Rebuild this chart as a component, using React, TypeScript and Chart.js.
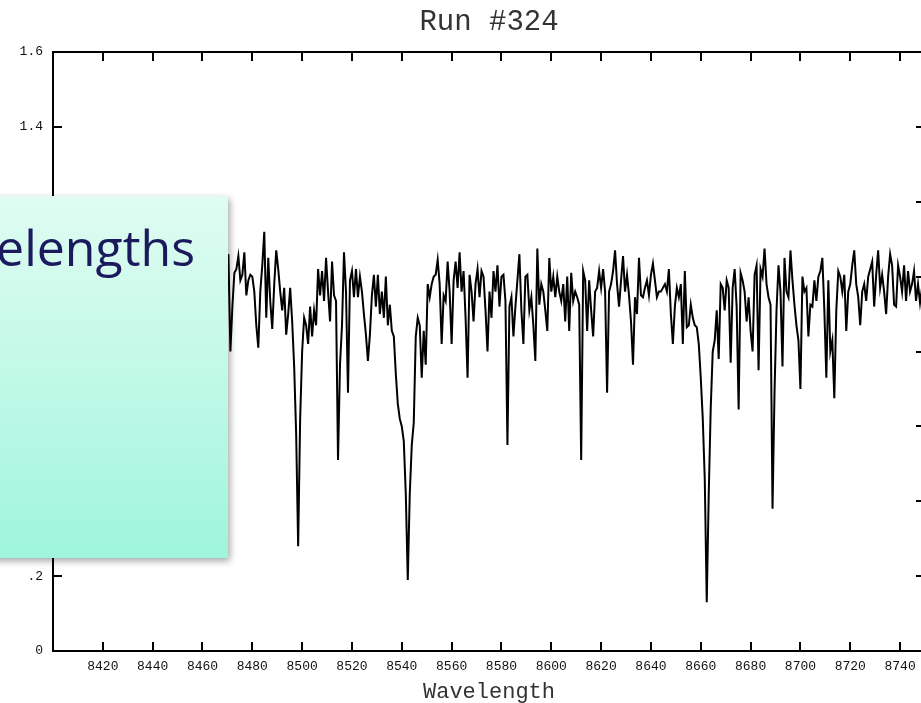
import React, { useEffect, useRef } from 'react';
import { Chart, registerables } from 'chart.js';

Chart.register(...registerables);

const TITLE = 'Run #324';
const X_LABEL = 'Wavelength';
const OVERLAY_TEXT = 'Wavelengths';

const X_MIN = 8400;
const X_MAX = 8750;
const Y_MIN = 0;
const Y_MAX = 1.6;

// regular wavelength sampling of the spectrum (Angstrom)
const WAVE_START = 8400;
const WAVE_STEP = 0.8;

const xTickValues = [8420, 8440, 8460, 8480, 8500, 8520, 8540, 8560, 8580, 8600, 8620, 8640, 8660, 8680, 8700, 8720, 8740];
const xTickLabels = ['8420', '8440', '8460', '8480', '8500', '8520', '8540', '8560', '8580', '8600', '8620', '8640', '8660', '8680', '8700', '8720', '8740'];
const yTickValues = [0, 0.2, 0.4, 0.6, 0.8, 1.0, 1.2, 1.4, 1.6];
const yTickLabels = ['0', '.2', '.4', '.6', '.8', '1', '1.2', '1.4', '1.6'];

// 8400.0 - 8464.0 (behind the overlay panel)
const flux8400 = [
  0.98, 1.02, 0.95, 1.01, 0.97, 0.93, 1.03, 0.99, 0.96, 1.00,
  0.94, 0.98, 1.04, 0.97, 0.92, 0.99, 1.01, 0.96, 0.90, 0.97,
  1.02, 0.98, 0.95, 1.03, 0.99, 0.94, 0.97, 1.01, 0.96, 0.93,
  0.99, 1.04, 0.97, 0.95, 1.00, 0.96, 0.91, 0.98, 1.02, 0.97,
  0.94, 0.99, 1.03, 0.96, 0.92, 0.98, 1.01, 0.95, 0.99, 1.02,
  0.96, 0.93, 0.98, 1.00, 0.95, 0.97, 1.03, 0.98, 0.94, 0.99,
  1.01, 0.96, 0.92, 0.98, 1.02, 0.97, 0.95, 1.00, 0.96, 0.93,
  0.99, 1.02, 0.97, 0.94, 0.99, 1.01, 0.96, 0.92, 0.98, 1.00,
  0.96,
];

// 8464.8 - 8536.8 (Ca II 8498)
const flux8465 = [
  0.95, 0.97, 0.93, 0.90, 0.61, 0.85, 0.98, 1.06, 0.80, 0.92,
  1.01, 1.02, 1.055, 0.99, 1.005, 1.065, 0.95, 0.99, 1.005, 1.00,
  0.96, 0.87, 0.81, 0.96, 1.03, 1.12, 0.89, 1.05, 0.935, 0.86,
  0.98, 1.07, 1.02, 0.96, 0.91, 0.97, 0.845, 0.90, 0.97, 0.88,
  0.76, 0.58, 0.28, 0.62, 0.80, 0.89, 0.87, 0.82, 0.92, 0.84,
  0.91, 0.87, 1.02, 0.95, 1.015, 0.935, 1.05, 0.96, 0.88, 1.04,
  0.95, 0.935, 0.51, 0.765, 0.87, 1.065, 0.96, 0.69, 0.99, 1.015,
  0.945, 1.02, 0.945, 1.00, 0.96, 0.90, 0.845, 0.775, 0.845, 0.95,
  1.005, 0.92, 1.005, 0.90, 0.96, 0.89, 1.00, 0.87, 0.925, 0.855,
  0.84,
];

// 8537.6 - 8607.2 (Ca II 8542)
const flux8538 = [
  0.74, 0.66, 0.62, 0.60, 0.56, 0.42, 0.19, 0.42, 0.55, 0.61,
  0.84, 0.89, 0.87, 0.73, 0.855, 0.765, 0.98, 0.945, 0.98, 1.00,
  1.005, 1.045, 0.98, 0.82, 0.95, 0.935, 1.04, 0.96, 0.82, 0.99,
  1.04, 0.97, 1.065, 0.96, 1.015, 0.89, 0.73, 1.005, 0.96, 0.88,
  0.98, 1.02, 0.945, 1.015, 1.00, 0.91, 0.80, 0.96, 0.89, 1.015,
  0.96, 1.03, 0.92, 1.00, 1.005, 0.935, 0.55, 0.92, 0.945, 0.84,
  0.92, 0.99, 1.06, 0.91, 0.82, 1.00, 1.005, 0.91, 0.945, 0.87,
  0.775, 1.075, 0.925, 0.98, 0.96, 0.91, 0.855, 1.05, 0.96, 1.00,
  0.945, 1.00, 0.96, 0.935, 0.98, 0.88, 1.00, 0.855,
];

// 8608.0 - 8659.2
const flux8608 = [
  1.01, 0.935, 0.96, 0.945, 0.925, 0.51, 1.015, 0.99, 0.855, 0.99,
  0.91, 0.84, 0.96, 0.97, 1.015, 0.97, 1.02, 0.96, 0.69, 0.96,
  0.98, 1.015, 1.07, 0.98, 0.92, 0.99, 1.055, 0.96, 1.005, 0.95,
  0.88, 0.765, 0.945, 0.90, 1.05, 0.95, 0.945, 0.97, 0.99, 0.95,
  1.005, 1.035, 0.99, 0.945, 0.96, 0.96, 0.97, 0.98, 0.96, 1.02,
  0.90, 0.82, 0.92, 0.97, 0.945, 0.98, 0.82, 1.015, 0.865, 0.87,
  0.925, 0.89, 0.87, 0.865, 0.82,
];

// 8660.0 - 8749.6 (Ca II 8662)
const flux8660 = [
  0.73, 0.62, 0.46, 0.13, 0.42, 0.65, 0.80, 0.83, 0.91, 0.78,
  0.98, 0.97, 0.91, 0.99, 0.97, 0.77, 0.97, 1.02, 0.92, 0.645,
  1.01, 0.99, 0.96, 0.88, 0.945, 0.855, 0.80, 1.005, 1.03, 0.75,
  1.02, 1.00, 1.075, 0.98, 0.945, 0.925, 0.38, 0.69, 0.91, 1.03,
  0.96, 0.76, 1.05, 0.96, 0.945, 1.07, 0.99, 0.925, 0.87, 0.83,
  0.70, 1.00, 0.96, 0.97, 0.84, 0.925, 0.92, 0.99, 0.935, 1.00,
  1.015, 1.05, 0.91, 0.73, 0.99, 0.80, 0.83, 0.675, 0.91, 1.015,
  1.00, 0.96, 1.005, 0.855, 0.96, 0.98, 1.03, 1.07, 0.98, 0.945,
  0.87, 0.96, 0.98, 0.935, 1.00, 1.02, 1.04, 0.92, 1.005, 1.07,
  0.97, 1.005, 0.96, 0.90, 1.00, 1.06, 1.03, 0.925, 0.92, 1.03,
  1.00, 0.96, 1.03, 0.935, 1.015, 0.96, 0.98, 1.015, 0.935, 0.98,
  0.93, 0.97, 1.00,
];

const MONO = "'Liberation Mono', 'DejaVu Sans Mono', monospace";

const inwardTicks = {
  id: 'inwardTicks',
  afterDatasetsDraw(chart: any) {
    const { ctx, chartArea } = chart;
    const { left, right, top, bottom } = chartArea;
    const xs = chart.scales.x;
    const ys = chart.scales.y;
    const len = 9;
    ctx.save();
    ctx.strokeStyle = '#000';
    ctx.lineWidth = 2;
    ctx.beginPath();
    for (const v of xTickValues) {
      const px = Math.round(xs.getPixelForValue(v));
      ctx.moveTo(px, bottom);
      ctx.lineTo(px, bottom - len);
      ctx.moveTo(px, top);
      ctx.lineTo(px, top + len);
    }
    for (const v of yTickValues) {
      const py = Math.round(ys.getPixelForValue(v));
      ctx.moveTo(left, py);
      ctx.lineTo(left + len, py);
      ctx.moveTo(right, py);
      ctx.lineTo(right - len, py);
    }
    ctx.stroke();
    ctx.restore();
  },
};

export default function App() {
  const canvasRef = useRef<HTMLCanvasElement | null>(null);

  useEffect(() => {
    const canvas = canvasRef.current;
    if (!canvas) return;
    const flux = [...flux8400, ...flux8465, ...flux8538, ...flux8608, ...flux8660];
    const points = flux.map((y, i) => ({ x: WAVE_START + i * WAVE_STEP, y }));

    const border = { display: true, color: '#000', width: 2 };
    const noGrid = { display: false, drawTicks: false, tickLength: 0 };
    const chart = new Chart(canvas, {
      type: 'line',
      data: {
        datasets: [
          {
            data: points,
            borderColor: '#000',
            borderWidth: 2,
            pointRadius: 0,
            tension: 0,
            fill: false,
          },
        ],
      },
      plugins: [inwardTicks],
      options: {
        animation: false,
        responsive: false,
        events: [],
        layout: { padding: 0 },
        plugins: { legend: { display: false }, tooltip: { enabled: false }, title: { display: false } },
        scales: {
          x: {
            type: 'linear',
            position: 'bottom',
            min: X_MIN,
            max: X_MAX,
            afterBuildTicks: (s: any) => {
              s.ticks = xTickValues.map((v) => ({ value: v }));
            },
            ticks: {
              autoSkip: false,
              maxRotation: 0,
              padding: 8,
              color: '#111',
              font: { family: MONO, size: 13 },
              callback: (v: any) => {
                const k = xTickValues.indexOf(Number(v));
                return k >= 0 ? xTickLabels[k] : '';
              },
            },
            grid: noGrid,
            border,
            title: {
              display: true,
              text: X_LABEL,
              color: '#333',
              font: { family: MONO, size: 22, lineHeight: 1 },
              padding: { top: 0, bottom: 0 },
            },
            afterFit: (s: any) => {
              s.height = 52;
            },
          },
          x2: {
            type: 'linear',
            position: 'top',
            min: X_MIN,
            max: X_MAX,
            ticks: { display: false },
            grid: noGrid,
            border,
            title: {
              display: true,
              text: TITLE,
              color: '#333',
              font: { family: MONO, size: 29, lineHeight: 1 },
              padding: { top: 8, bottom: 0 },
            },
            afterFit: (s: any) => {
              s.height = 52;
            },
          },
          y: {
            type: 'linear',
            position: 'left',
            min: Y_MIN,
            max: Y_MAX,
            afterBuildTicks: (s: any) => {
              s.ticks = yTickValues.map((v) => ({ value: v }));
            },
            ticks: {
              padding: 10,
              color: '#111',
              font: { family: MONO, size: 13 },
              callback: (v: any) => {
                const k = yTickValues.indexOf(Number(v));
                return k >= 0 ? yTickLabels[k] : '';
              },
            },
            grid: noGrid,
            border,
            afterFit: (s: any) => {
              s.width = 53;
            },
          },
          y2: {
            type: 'linear',
            position: 'right',
            min: Y_MIN,
            max: Y_MAX,
            ticks: { display: false },
            grid: noGrid,
            border,
            afterFit: (s: any) => {
              s.width = 15;
            },
          },
        },
      } as any,
    });
    return () => chart.destroy();
  }, []);

  return (
    <div style={{ position: 'fixed', left: 0, top: 0, width: '100vw', height: '100vh', overflow: 'hidden', background: '#fff' }}>
      <canvas ref={canvasRef} width={940} height={703} style={{ position: 'absolute', left: 0, top: 0, width: 940, height: 703, display: 'block' }} />
      <div
        style={{
          position: 'absolute',
          left: -60,
          top: 196,
          width: 288,
          height: 362,
          background: 'linear-gradient(to bottom, #e0fcf2 0%, #c4f9e8 45%, #9ff5dc 100%)',
          boxShadow: '2px 3px 7px rgba(0,0,0,0.35)',
          overflow: 'visible',
        }}
      >
        <span
          style={{
            position: 'absolute',
            right: 33,
            top: 26,
            fontFamily: "'Open Sans', 'Noto Sans', sans-serif",
            fontSize: 50,
            lineHeight: '50px',
            color: '#1b1a5e',
            whiteSpace: 'nowrap',
          }}
        >
          {OVERLAY_TEXT}
        </span>
      </div>
    </div>
  );
}
